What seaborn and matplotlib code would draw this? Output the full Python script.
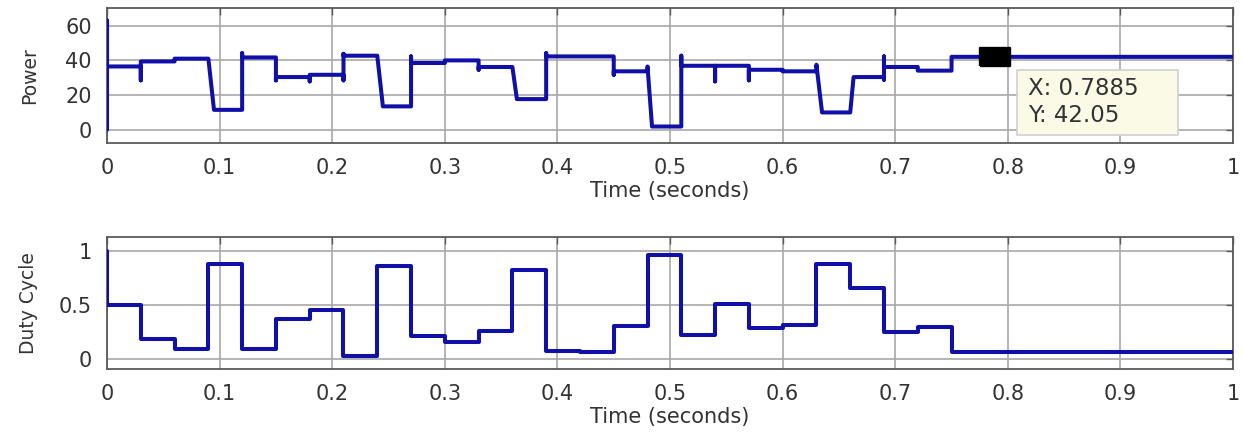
import numpy as np
import pandas as pd
import matplotlib
matplotlib.use("Agg")
import matplotlib.pyplot as plt
from matplotlib.patches import Rectangle
import seaborn as sns

nan = np.nan

# ---------------- data ----------------
switch_t = [0.00, 0.03, 0.06, 0.09, 0.12, 0.15, 0.18, 0.21, 0.24, 0.27,
            0.30, 0.33, 0.36, 0.39, 0.42, 0.45, 0.48, 0.51, 0.54, 0.57,
            0.60, 0.63, 0.66, 0.69, 0.72, 0.75]
t_end = 1.0

power_start = 0.0
power_level = [36.5, 39.4, 41.0, 11.5, 41.7, 30.4, 31.7, 42.7, 13.5, 38.5,
               40.0, 36.2, 17.7, 42.3, 42.3, 33.7, 1.9, 36.9, 36.9, 34.6,
               33.7, 10.0, 30.4, 36.2, 34.1, 42.05]
power_dip = [nan, 28.5, nan, nan, nan, 28.5, 27.9, 28.5, nan, nan,
             nan, 34.6, nan, nan, nan, 31.7, nan, nan, 27.9, 28.5,
             nan, nan, nan, 28.8, nan, nan]
power_peak = [63.0, nan, nan, nan, 44.2, nan, nan, 43.8, nan, 42.3,
              nan, nan, nan, 44.2, nan, nan, 36.5, 42.7, nan, nan,
              nan, 37.5, nan, 42.3, nan, nan]
power_ramp = [0, 0, 0, 0.005, 0, 0, 0, 0, 0.005, 0,
              0, 0, 0.004, 0, 0, 0, 0.004, 0, 0, 0,
              0, 0.005, 0.003, 0, 0, 0]

duty_start = 1.0
duty_level = [0.50, 0.187, 0.095, 0.883, 0.092, 0.371, 0.454, 0.03, 0.859, 0.209,
              0.153, 0.26, 0.828, 0.07, 0.061, 0.307, 0.966, 0.224, 0.506, 0.29,
              0.316, 0.883, 0.66, 0.248, 0.298, 0.061]

tip_x = 0.7885
tip_y = 42.05

x_ticks = [0, 0.1, 0.2, 0.3, 0.4, 0.5, 0.6, 0.7, 0.8, 0.9, 1.0]
x_ticklabels = ["0", "0.1", "0.2", "0.3", "0.4", "0.5", "0.6", "0.7", "0.8", "0.9", "1"]
power_ticks = [0, 20, 40, 60]
duty_ticks = [0, 0.5, 1]
duty_ticklabels = ["0", "0.5", "1"]

# ---------------- build the step traces ----------------
def power_trace():
    ts, vs = [], []
    prev = power_start
    for t, lvl, dip, peak, ramp in zip(switch_t, power_level, power_dip, power_peak, power_ramp):
        ts.append(t); vs.append(prev)
        if not np.isnan(dip):
            ts.append(t); vs.append(dip)
        if not np.isnan(peak):
            ts.append(t); vs.append(peak)
        ts.append(t + ramp); vs.append(lvl)
        prev = lvl
    ts.append(t_end); vs.append(prev)
    return pd.DataFrame({"t": ts, "v": vs})


def duty_trace():
    ts, vs = [], []
    prev = duty_start
    for t, lvl in zip(switch_t, duty_level):
        ts.append(t); vs.append(prev)
        ts.append(t); vs.append(lvl)
        prev = lvl
    ts.append(t_end); vs.append(prev)
    return pd.DataFrame({"t": ts, "v": vs})


df_p = power_trace()
df_d = duty_trace()

# ---------------- styling ----------------
sns.set_theme(style="white")
plt.rcParams["font.family"] = ["DejaVu Sans"]

line_col = "#1010a8"
grid_col = "#a8a8a8"
spine_col = "#5a5a5a"
text_col = "#333333"

fig = plt.figure(figsize=(12.43, 4.32), dpi=100)
ax1 = fig.add_axes([0.0861, 0.669, 0.9059, 0.3125])
ax2 = fig.add_axes([0.0861, 0.1458, 0.9059, 0.3056])

sns.lineplot(data=df_p, x="t", y="v", sort=False, estimator=None,
             color=line_col, linewidth=2.9, ax=ax1, zorder=3)
sns.lineplot(data=df_d, x="t", y="v", sort=False, estimator=None,
             color=line_col, linewidth=2.9, ax=ax2, zorder=3)

# data tip marker
rect_marker = [(-1, -0.6), (1, -0.6), (1, 0.6), (-1, 0.6), (-1, -0.6)]
sns.scatterplot(x=[tip_x], y=[tip_y], marker=rect_marker, s=441,
                color="black", edgecolor="black", ax=ax1, zorder=5)
ax1.add_patch(Rectangle((0.808, -2.9), 0.143, 37.5, facecolor="#fafae6",
                        edgecolor="#cfcfcf", linewidth=1.2, zorder=6))
ax1.text(0.818, 15.8, f"X: {tip_x}\nY: {tip_y}", fontsize=16.5, color=text_col,
         ha="left", va="center", linespacing=1.22, zorder=7)

for ax in (ax1, ax2):
    ax.set_xlim(0, 1)
    ax.set_xticks(x_ticks)
    ax.set_xticklabels(x_ticklabels)
    ax.grid(True, color=grid_col, linewidth=1.2)
    ax.set_axisbelow(True)
    for s in ax.spines.values():
        s.set_color(spine_col)
        s.set_linewidth(1.3)
        s.set_visible(True)
    ax.tick_params(direction="in", top=True, right=True, length=5, width=1,
                   color=spine_col, labelsize=15, labelcolor=text_col, pad=11)
    ax.set_xlabel("Time (seconds)", fontsize=15, color=text_col, labelpad=2)

ax1.set_ylim(-7.6, 70.2)
ax1.set_yticks(power_ticks)
ax1.set_ylabel("Power", fontsize=13.5, color=text_col, labelpad=19)

ax2.set_ylim(-0.093, 1.13)
ax2.set_yticks(duty_ticks)
ax2.set_yticklabels(duty_ticklabels)
ax2.set_ylabel("Duty Cycle", fontsize=13.5, color=text_col, labelpad=15)

fig.savefig("out.png", dpi=100)
